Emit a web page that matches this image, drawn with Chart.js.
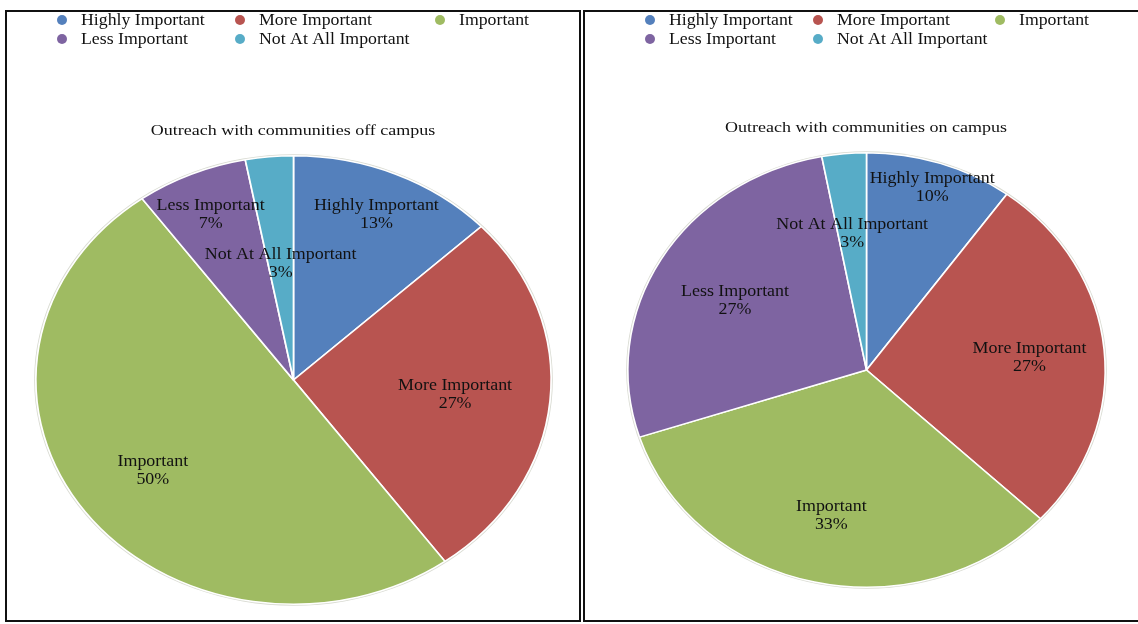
<!DOCTYPE html>
<html>
<head>
<meta charset="utf-8">
<script src="https://cdn.jsdelivr.net/npm/chart.js@4.4.1/dist/chart.umd.min.js"></script>
<style>
  html, body { margin: 0; padding: 0; background: #fff; width: 1138px; height: 624px; overflow: hidden; }
  .panel { position: absolute; border: 2px solid #111; box-sizing: border-box; }
  #leftPanel { left: 5px; top: 10px; width: 576px; height: 612px; }
  #rightPanel { left: 583px; top: 10px; width: 570px; height: 612px; }
  canvas { position: absolute; top: 0; }
  #offCampus { left: 0; }
  #onCampus { left: 583px; }
</style>
</head>
<body>
<div class="panel" id="leftPanel"></div>
<div class="panel" id="rightPanel"></div>
<canvas id="offCampus" width="580" height="624"></canvas>
<canvas id="onCampus" width="555" height="624"></canvas>
<script>
const categories = ['Highly Important', 'More Important', 'Important', 'Less Important', 'Not At All Important'];
const offCampusPct = [13, 27, 50, 7, 3];
const onCampusPct = [10, 27, 33, 27, 3];
const sliceColors = ['#5480bc', '#b85450', '#9fbb62', '#7e64a1', '#57acc7'];

const SERIF = '"Liberation Serif", "DejaVu Serif", serif';

// text drawn a little wider than the font's natural width
function wideText(ctx, text, x, y, sx) {
  ctx.save();
  ctx.translate(x, y);
  ctx.scale(sx, 1);
  ctx.fillText(text, 0, 0);
  ctx.restore();
}

// pie is drawn as a circle and squashed into an oval around its centre
const ovalPie = {
  id: 'ovalPie',
  beforeDatasetsDraw(chart, args, opts) {
    const arc = chart.getDatasetMeta(0).data[0];
    const ctx = chart.ctx;
    ctx.save();
    ctx.translate(arc.x, 0);
    ctx.scale(opts.stretch, 1);
    ctx.translate(-arc.x, 0);
    // faint rim around the pie
    ctx.beginPath();
    ctx.arc(arc.x, arc.y, arc.outerRadius + 1.5, 0, Math.PI * 2);
    ctx.fillStyle = '#d9dbd2';
    ctx.fill();
  },
  afterDatasetsDraw(chart) {
    chart.ctx.restore();
  }
};

// slice labels, title and a two-row legend
const decorations = {
  id: 'decorations',
  afterDraw(chart, args, opts) {
    const ctx = chart.ctx;
    const values = chart.data.datasets[0].data;
    const labels = chart.data.labels;
    const colors = chart.data.datasets[0].backgroundColor;
    const stretch = chart.options.plugins.ovalPie.stretch;
    ctx.save();

    // labels inside the slices
    ctx.font = '16px ' + SERIF;
    ctx.fillStyle = '#111';
    ctx.textAlign = 'center';
    ctx.textBaseline = 'middle';
    chart.getDatasetMeta(0).data.forEach((arc, i) => {
      const mid = (arc.startAngle + arc.endAngle) / 2;
      const r = arc.outerRadius * opts.labelRadius[i];
      const x = arc.x + Math.cos(mid) * r * stretch;
      const y = arc.y + Math.sin(mid) * r + 2;
      wideText(ctx, labels[i], x, y - 9, 1.12);
      wideText(ctx, values[i] + '%', x, y + 9, 1.12);
    });

    // title
    ctx.font = '15px ' + SERIF;
    wideText(ctx, opts.title, opts.titleX, opts.titleY, 1.2);

    // legend
    ctx.font = '16px ' + SERIF;
    ctx.textAlign = 'left';
    labels.forEach((name, i) => {
      const col = i % 3, row = Math.floor(i / 3);
      const bx = opts.legendX[col], by = opts.legendY[row];
      ctx.beginPath();
      ctx.arc(bx, by, 5, 0, Math.PI * 2);
      ctx.fillStyle = colors[i];
      ctx.fill();
      ctx.fillStyle = '#111';
      wideText(ctx, name, bx + 19, by + 1, 1.11);
    });
    ctx.restore();
  }
};

function makePie(id, values, pad, stretch, extra) {
  return new Chart(document.getElementById(id), {
    type: 'pie',
    data: {
      labels: categories,
      datasets: [{
        data: values,
        backgroundColor: sliceColors,
        borderColor: '#ffffff',
        borderWidth: 1.5
      }]
    },
    options: {
      responsive: false,
      animation: false,
      events: [],
      layout: { padding: pad },
      plugins: {
        legend: { display: false },
        tooltip: { enabled: false },
        ovalPie: { stretch: stretch },
        decorations: extra
      }
    },
    plugins: [ovalPie, decorations]
  });
}

makePie('offCampus', offCampusPct,
  { left: 35, right: 28, top: 155, bottom: 19 }, 258.5 / 225, {
    title: 'Outreach with communities off campus', titleX: 293, titleY: 131,
    labelRadius: [0.81, 0.63, 0.675, 0.81, 0.53],
    legendX: [62, 240, 440], legendY: [20, 39]
  });

makePie('onCampus', onCampusPct,
  { left: 44, right: 32, top: 152, bottom: 36 }, 239.5 / 218, {
    title: 'Outreach with communities on campus', titleX: 283, titleY: 128,
    labelRadius: [0.89, 0.686, 0.676, 0.64, 0.637],
    legendX: [67, 235, 417], legendY: [20, 39]
  });
</script>
</body>
</html>
